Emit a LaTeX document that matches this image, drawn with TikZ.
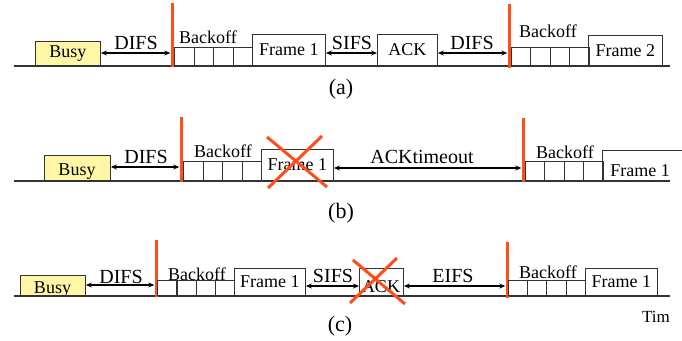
\documentclass[tikz,border=0pt]{standalone}
\usepackage{fontspec}
\setmainfont{Liberation Serif}
\usetikzlibrary{arrows.meta}
\definecolor{busyfill}{HTML}{FFF7A6}
\definecolor{xred}{HTML}{FF4E1C}
\definecolor{lineg}{HTML}{333333}
\begin{document}
\begin{tikzpicture}[x=1pt,y=-1pt,
  axis/.style={draw=lineg,line width=1.6pt},
  box/.style={draw=lineg,line width=0.9pt,inner sep=0pt,anchor=south west,font=\fontsize{18}{20}\selectfont},
  busybox/.style={box,fill=busyfill},
  slotbox/.style={draw=lineg,line width=0.8pt,inner sep=0pt,anchor=south west,minimum width=19.5pt},
  redbar/.style={fill=xred,inner sep=0pt,minimum width=3pt},
  arr/.style={{Stealth[length=6pt,width=5pt]}-{Stealth[length=6pt,width=5pt]},line width=1.3pt,black},
  lbl/.style={anchor=base,inner sep=0pt,font=\fontsize{20}{22}\selectfont},
  blbl/.style={anchor=base,inner sep=0pt,font=\fontsize{18}{20}\selectfont},
  captxt/.style={inner sep=0pt,font=\fontsize{22}{24}\selectfont},
  cross/.style={draw=xred,line width=3pt}]
\useasboundingbox (0,0) rectangle (682,340);

% ---------------- (a) ----------------
\coordinate (aL) at (14,66); \coordinate (aR) at (670,66);
\draw[axis] (aL) -- (aR);
\node[busybox,minimum width=65pt,minimum height=24pt] (busyA) at (35,66) {Busy};
\node[redbar,minimum height=64pt] (redA1) at (172,35) {};
\draw[arr] (busyA.east |- 0,53) -- (redA1.west |- 0,53);
\node[lbl] (difsA1) at (136,49) {DIFS};
\foreach \i in {0,1,2,3} \node[slotbox,minimum height=18pt] (sA1\i) at (174+19.5*\i,66) {};
\node[blbl] (boA1) at (208,43) {Backoff};
\node[box,minimum width=73pt,minimum height=31pt] (frA1) at (252,66) {Frame 1};
\node[box,minimum width=60pt,minimum height=31pt] (ackA) at (377,66) {ACK};
\draw[arr] (frA1.east |- 0,53) -- (ackA.west |- 0,53);
\node[lbl] (sifsA) at (352,49) {SIFS};
\node[redbar,minimum height=64pt] (redA2) at (509,36) {};
\draw[arr] (ackA.east |- 0,53) -- (redA2.west |- 0,53);
\node[lbl] (difsA2) at (472,49) {DIFS};
\foreach \i in {0,1,2,3} \node[slotbox,minimum height=18pt] (sA2\i) at (510.5+19.5*\i,66) {};
\node[blbl] (boA2) at (548,37) {Backoff};
\node[box,minimum width=74pt,minimum height=30pt] (frA2) at (588,66) {Frame 2};
\node[captxt] (capA) at (341,89) {(a)};

% ---------------- (b) ----------------
\coordinate (bL) at (14,181); \coordinate (bR) at (670,181);
\draw[axis] (bL) -- (bR);
\node[busybox,minimum width=66pt,minimum height=25pt] (busyB) at (44,181) {};
\node[blbl] at (77,175) {Busy};
\node[redbar,minimum height=65pt] (redB1) at (181,149.5) {};
\draw[arr] (busyB.east |- 0,167) -- (redB1.west |- 0,167);
\node[lbl] (difsB) at (146,163) {DIFS};
\foreach \i in {0,1,2,3} \node[slotbox,minimum height=19pt] (sB1\i) at (183+19.5*\i,181) {};
\node[blbl] (boB1) at (223,157) {Backoff};
\node[box,minimum width=72pt,minimum height=31pt] (frB1) at (261,181) {Frame 1};
\draw[cross] (267,137) -- (327,187);
\draw[cross] (268,188) -- (322,136);
\node[redbar,minimum height=64pt] (redB2) at (523,150) {};
\draw[arr] (frB1.east |- 0,168) -- (redB2.west |- 0,168);
\node[lbl] (ackto) at (422,163) {ACKtimeout};
\foreach \i in {0,1,2,3} \node[slotbox,minimum height=19pt] (sB2\i) at (524.5+19.5*\i,181) {};
\node[blbl] (boB2) at (565,158) {Backoff};
\coordinate (frB2a) at (682,150);
\coordinate (frB2b) at (602.5,150);
\coordinate (frB2c) at (602.5,181);
\draw[draw=lineg,line width=0.9pt] (frB2a) -- (frB2b) -- (frB2c);
\node[blbl] (frB2) at (640,176) {Frame 1};
\node[captxt] (capB) at (341,213) {(b)};

% ---------------- (c) ----------------
\coordinate (cL) at (14,296); \coordinate (cR) at (670,296);
\node[busybox,minimum width=65pt,minimum height=20pt] (busyC) at (20,296) {};
\node[blbl] at (52.5,293) {Busy};
\draw[axis] (cL) -- (cR);
\node[redbar,minimum height=57pt] (redC1) at (156,268.5) {};
\draw[arr] (busyC.east |- 0,285) -- (redC1.west |- 0,285);
\node[lbl] (difsC) at (121,283) {DIFS};
\foreach \i in {0,1,2,3} \node[slotbox,minimum height=15pt] (sC1\i) at (157+19.25*\i,296) {};
\node[blbl] (boC1) at (197,280) {Backoff};
\node[box,minimum width=71pt,minimum height=27pt] (frC1) at (234,296) {Frame 1};
\node[box,minimum width=44pt,minimum height=27pt] (ackC) at (359,296) {};
\node[blbl] at (381,292) {ACK};
\draw[arr] (frC1.east |- 0,286) -- (ackC.west |- 0,286);
\node[lbl] (sifsC) at (333,282) {SIFS};
\draw[cross] (350,303) -- (397,258);
\draw[cross] (353,260) -- (405,304);
\node[redbar,minimum height=56pt] (redC2) at (507,270) {};
\draw[arr] (ackC.east |- 0,286) -- (redC2.west |- 0,286);
\node[lbl] (eifs) at (453,282) {EIFS};
\foreach \i in {0,1,2,3} \node[slotbox,minimum height=15pt] (sC2\i) at (507.5+19.4*\i,296) {};
\node[blbl] (boC2) at (548,278) {Backoff};
\node[box,minimum width=72pt,minimum height=27pt] (frC2) at (585,296) {Frame 1};
\node[anchor=base,inner sep=0pt,font=\fontsize{17}{19}\selectfont] (tim) at (656,322) {Tim};
\node[captxt] (capC) at (340,326) {(c)};
\end{tikzpicture}
\end{document}
